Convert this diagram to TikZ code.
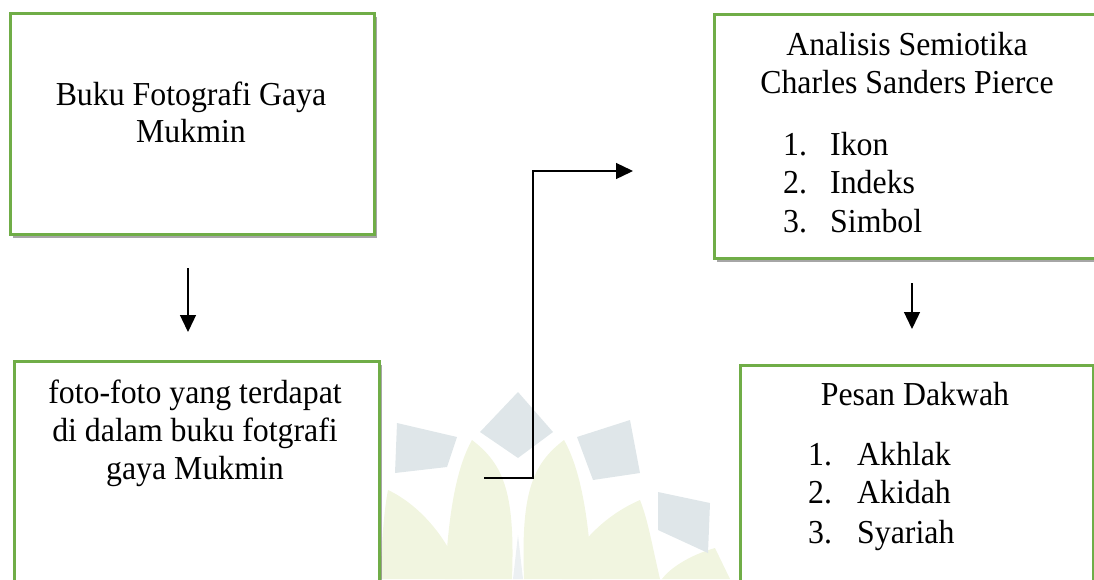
\documentclass[tikz,border=0pt]{standalone}
\usepackage{fontspec}
\setmainfont[FakeStretch=0.95]{Liberation Serif}
\usetikzlibrary{shadows,arrows.meta}
\definecolor{boxgreen}{HTML}{70AD47}
\definecolor{wmgreen}{HTML}{F1F5E0}
\definecolor{wmgrey}{HTML}{DFE6E9}
\begin{document}
\begin{tikzpicture}[x=1pt,y=-1pt,
  box/.style={draw=boxgreen, line width=2.5pt, fill=white, inner sep=0pt,
    anchor=north west,
    drop shadow={shadow xshift=3pt, shadow yshift=-4pt, fill=black, opacity=0.35}},
  txt/.style={font=\fontsize{33.5}{38}\selectfont, inner sep=0pt},
  arr/.style={line width=1.3pt, -{Triangle[length=17pt,width=16pt]}},
  wmpetal/.style={fill=wmgreen, draw=none},
  wmtile/.style={fill=wmgrey, draw=none}]
\useasboundingbox (0,0) rectangle (1094,579);
% watermark
\fill[wmpetal] (472,440) .. controls (505,465) and (515,495) .. (512,579) -- (445,579) .. controls (448,520) and (455,470) .. cycle;
\fill[wmpetal] (564,440) .. controls (531,465) and (521,495) .. (524,579) -- (592,579) .. controls (589,520) and (581,470) .. cycle;
\fill[wmpetal] (388,490) .. controls (420,505) and (450,540) .. (462,579) -- (380,579) .. controls (382,540) and (384,510) .. cycle;
\fill[wmpetal] (640,500) .. controls (605,515) and (575,545) .. (562,579) -- (660,579) .. controls (652,545) and (648,520) .. cycle;
\fill[wmpetal] (715,548) .. controls (690,555) and (670,568) .. (662,579) -- (730,579) -- cycle;
\fill[wmtile] (518,392) -- (553,432) -- (518,458) -- (480,432) -- cycle;
\fill[wmtile] (397,423) -- (457,437) -- (447,467) -- (395,473) -- cycle;
\fill[wmtile] (577,437) -- (630,420) -- (640,473) -- (593,480) -- cycle;
\fill[wmtile] (658,492) -- (710,503) -- (708,553) -- (658,530) -- cycle;
\fill[wmgrey!60] (513,579) -- (518,535) -- (523,579) -- cycle;
% boxes
\node[box, minimum width=364pt, minimum height=221pt] (b1) at (9,12) {};
\node[box, minimum width=365pt, minimum height=240pt] (b2) at (13,360) {};
\node[box, minimum width=400pt, minimum height=244pt] (b3) at (713,13) {};
\node[box, minimum width=353pt, minimum height=240pt] (b4) at (739,364) {};
% box 1 text
\node[txt, anchor=base] (t1a) at (191,105) {Buku Fotografi Gaya};
\node[txt, anchor=base] (t1b) at (191,142) {Mukmin};
% box 2 text
\node[txt, anchor=base] (t2a) at (195,403) {foto-foto yang terdapat};
\node[txt, anchor=base] (t2b) at (195,441) {di dalam buku fotgrafi};
\node[txt, anchor=base] (t2c) at (195,479) {gaya Mukmin};
% box 3 text
\node[txt, anchor=base] (t3a) at (907,55) {Analisis Semiotika};
\node[txt, anchor=base] (t3b) at (907,93) {Charles Sanders Pierce};
\node[txt, anchor=base west] (n31) at (783,155) {1.};
\node[txt, anchor=base west] (i31) at (830,155) {Ikon};
\node[txt, anchor=base west] (n32) at (783,193) {2.};
\node[txt, anchor=base west] (i32) at (830,193) {Indeks};
\node[txt, anchor=base west] (n33) at (783,232) {3.};
\node[txt, anchor=base west] (i33) at (830,232) {Simbol};
% box 4 text
\node[txt, anchor=base] (t4a) at (915,405) {Pesan Dakwah};
\node[txt, anchor=base west] (n41) at (808,465) {1.};
\node[txt, anchor=base west] (i41) at (857,465) {Akhlak};
\node[txt, anchor=base west] (n42) at (808,503) {2.};
\node[txt, anchor=base west] (i42) at (857,503) {Akidah};
\node[txt, anchor=base west] (n43) at (808,543) {3.};
\node[txt, anchor=base west] (i43) at (857,543) {Syariah};
% connectors
\coordinate (a1s) at (188,268);
\coordinate (a1e) at (188,332);
\coordinate (a2s) at (912,283);
\coordinate (a2e) at (912,329);
\coordinate (e0) at (484,478);
\coordinate (ej) at (533,300);
\coordinate (e3) at (633,171);
\draw[arr] (a1s) -- (a1e);
\draw[arr] (a2s) -- (a2e);
\draw[arr] (e0) -| (ej) |- (e3);
\end{tikzpicture}
\end{document}
